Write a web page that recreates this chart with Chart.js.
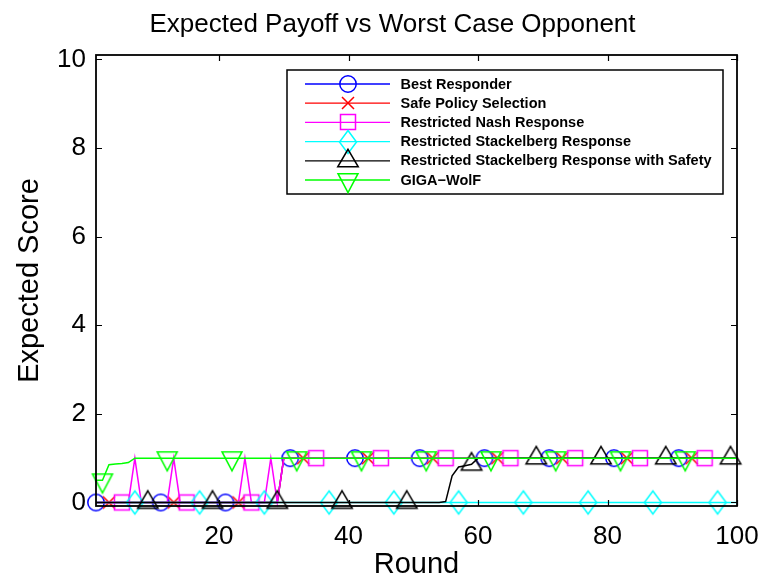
<!DOCTYPE html>
<html>
<head>
<meta charset="utf-8">
<script src="https://cdn.jsdelivr.net/npm/chart.js@4.4.1/dist/chart.umd.min.js"></script>
<style>
  html, body { margin: 0; padding: 0; background: #fff; }
  #c { display: block; }
</style>
</head>
<body>
<canvas id="c" width="765" height="584"></canvas>
<script>
// Round numbers (x axis)
const rounds = [
  1, 2, 3, 4, 5, 6, 7, 8, 9, 10, 11, 12, 13, 14, 15, 16, 17, 18, 19, 20,
  21, 22, 23, 24, 25, 26, 27, 28, 29, 30, 31, 32, 33, 34, 35, 36, 37, 38, 39, 40,
  41, 42, 43, 44, 45, 46, 47, 48, 49, 50, 51, 52, 53, 54, 55, 56, 57, 58, 59, 60,
  61, 62, 63, 64, 65, 66, 67, 68, 69, 70, 71, 72, 73, 74, 75, 76, 77, 78, 79, 80,
  81, 82, 83, 84, 85, 86, 87, 88, 89, 90, 91, 92, 93, 94, 95, 96, 97, 98, 99, 100
];

// Expected payoff per round for each strategy
const bestResponder = [
  0, 0, 0, 0, 0, 0, 0, 0, 0, 0, 0, 0, 0, 0, 0, 0, 0, 0, 0, 0,
  0, 0, 0, 0, 0, 0, 0, 0, 0, 1, 1, 1, 1, 1, 1, 1, 1, 1, 1, 1,
  1, 1, 1, 1, 1, 1, 1, 1, 1, 1, 1, 1, 1, 1, 1, 1, 1, 1, 1, 1,
  1, 1, 1, 1, 1, 1, 1, 1, 1, 1, 1, 1, 1, 1, 1, 1, 1, 1, 1, 1,
  1, 1, 1, 1, 1, 1, 1, 1, 1, 1, 1, 1, 1, 1, 1, 1, 1, 1, 1, 1
];
const safePolicy = [
  0, 0, 0, 0, 0, 0, 0, 0, 0, 0, 0, 0, 0, 0, 0, 0, 0, 0, 0, 0,
  0, 0, 0, 0, 0, 0, 0, 0, 0, 1, 1, 1, 1, 1, 1, 1, 1, 1, 1, 1,
  1, 1, 1, 1, 1, 1, 1, 1, 1, 1, 1, 1, 1, 1, 1, 1, 1, 1, 1, 1,
  1, 1, 1, 1, 1, 1, 1, 1, 1, 1, 1, 1, 1, 1, 1, 1, 1, 1, 1, 1,
  1, 1, 1, 1, 1, 1, 1, 1, 1, 1, 1, 1, 1, 1, 1, 1, 1, 1, 1, 1
];
const nashResponse = [
  0, 0, 0, 0, 0, 0, 1, 0, 0, 0, 0, 0, 1, 0, 0, 0, 0, 0, 0, 0,
  0, 0, 0, 1, 0, 0, 0, 1, 0, 1, 1, 1, 1, 1, 1, 1, 1, 1, 1, 1,
  1, 1, 1, 1, 1, 1, 1, 1, 1, 1, 1, 1, 1, 1, 1, 1, 1, 1, 1, 1,
  1, 1, 1, 1, 1, 1, 1, 1, 1, 1, 1, 1, 1, 1, 1, 1, 1, 1, 1, 1,
  1, 1, 1, 1, 1, 1, 1, 1, 1, 1, 1, 1, 1, 1, 1, 1, 1, 1, 1, 1
];
const stackelberg = [
  0, 0, 0, 0, 0, 0, 0, 0, 0, 0, 0, 0, 0, 0, 0, 0, 0, 0, 0, 0,
  0, 0, 0, 0, 0, 0, 0, 0, 0, 0, 0, 0, 0, 0, 0, 0, 0, 0, 0, 0,
  0, 0, 0, 0, 0, 0, 0, 0, 0, 0, 0, 0, 0, 0, 0, 0, 0, 0, 0, 0,
  0, 0, 0, 0, 0, 0, 0, 0, 0, 0, 0, 0, 0, 0, 0, 0, 0, 0, 0, 0,
  0, 0, 0, 0, 0, 0, 0, 0, 0, 0, 0, 0, 0, 0, 0, 0, 0, 0, 0, 0
];
const stackelbergSafety = [
  0, 0, 0, 0, 0, 0, 0, 0, 0, 0, 0, 0, 0, 0, 0, 0, 0, 0, 0, 0,
  0, 0, 0, 0, 0, 0, 0, 0, 0, 0, 0, 0, 0, 0, 0, 0, 0, 0, 0, 0,
  0, 0, 0, 0, 0, 0, 0, 0, 0, 0, 0, 0, 0, 0, 0.02, 0.6, 0.8, 0.83, 0.86, 1,
  1, 1, 1, 1, 1, 1, 1, 1, 1, 1, 1, 1, 1, 1, 1, 1, 1, 1, 1, 1,
  1, 1, 1, 1, 1, 1, 1, 1, 1, 1, 1, 1, 1, 1, 1, 1, 1, 1, 1, 1
];
const gigaWolf = [
  0.5, 0.5, 0.85, 0.87, 0.88, 0.9, 1, 1, 1, 1, 1, 1, 1, 1, 1, 1, 1, 1, 1, 1,
  1, 1, 1, 1, 1, 1, 1, 1, 1, 1, 1, 1, 1, 1, 1, 1, 1, 1, 1, 1,
  1, 1, 1, 1, 1, 1, 1, 1, 1, 1, 1, 1, 1, 1, 1, 1, 1, 1, 1, 1,
  1, 1, 1, 1, 1, 1, 1, 1, 1, 1, 1, 1, 1, 1, 1, 1, 1, 1, 1, 1,
  1, 1, 1, 1, 1, 1, 1, 1, 1, 1, 1, 1, 1, 1, 1, 1, 1, 1, 1, 1
];

const seriesNames = [
  'Best Responder',
  'Safe Policy Selection',
  'Restricted Nash Response',
  'Restricted Stackelberg Response',
  'Restricted Stackelberg Response with Safety',
  'GIGA\u2212WolF'
];

const xTickValues = [20, 40, 60, 80, 100];
const yTickValues = [0, 2, 4, 6, 8, 10];

const FONT = "'Liberation Sans', Arial, Helvetica, sans-serif";

// Hollow marker glyphs, drawn once into small canvases and used as point styles
function makeMarker(shape, color) {
  const S = 30, m = S / 2;
  const c = document.createElement('canvas');
  c.width = S; c.height = S;
  const g = c.getContext('2d');
  g.strokeStyle = color;
  g.lineWidth = 1.5;
  g.lineJoin = 'miter';
  g.beginPath();
  if (shape === 'circle') {
    g.arc(m, m, 8.2, 0, Math.PI * 2);
  } else if (shape === 'cross') {
    g.moveTo(m - 6, m - 6); g.lineTo(m + 6, m + 6);
    g.moveTo(m + 6, m - 6); g.lineTo(m - 6, m + 6);
  } else if (shape === 'square') {
    g.rect(m - 7.5, m - 7.5, 15, 15);
  } else if (shape === 'diamond') {
    g.moveTo(m, m - 11.5); g.lineTo(m + 8.5, m);
    g.lineTo(m, m + 11.5); g.lineTo(m - 8.5, m); g.closePath();
  } else if (shape === 'triUp') {
    const h = 17.5, w = 20.5;
    g.moveTo(m, m - 2 * h / 3); g.lineTo(m + w / 2, m + h / 3);
    g.lineTo(m - w / 2, m + h / 3); g.closePath();
  } else if (shape === 'triDown') {
    const h = 19, w = 20;
    g.moveTo(m, m + 2 * h / 3); g.lineTo(m + w / 2, m - h / 3);
    g.lineTo(m - w / 2, m - h / 3); g.closePath();
  }
  g.stroke();
  return c;
}

const styles = [
  { data: bestResponder,     color: '#0000ff', shape: 'circle',  first: 1 },
  { data: safePolicy,        color: '#ff0000', shape: 'cross',   first: 3 },
  { data: nashResponse,      color: '#ff00ff', shape: 'square',  first: 5 },
  { data: stackelberg,       color: '#00ffff', shape: 'diamond', first: 7 },
  { data: stackelbergSafety, color: '#000000', shape: 'triUp',   first: 9 },
  { data: gigaWolf,          color: '#00ff00', shape: 'triDown', first: 2 }
];

const datasets = styles.map((s, i) => {
  const img = makeMarker(s.shape, s.color);
  return {
    label: seriesNames[i],
    data: s.data,
    borderColor: s.color,
    backgroundColor: s.color,
    borderWidth: 1.5,
    tension: 0,
    clip: false,
    order: styles.length - i,
    pointStyle: img,
    markerImage: img,
    pointRadius: ctx => ((rounds[ctx.dataIndex] - s.first) % 10 === 0 ? 9 : 0),
    pointHoverRadius: ctx => ((rounds[ctx.dataIndex] - s.first) % 10 === 0 ? 9 : 0)
  };
});

// Boxed axes with inward ticks, plus the boxed legend in the upper right
const framePlugin = {
  id: 'frame',
  afterDatasetsDraw(chart) {
    const { ctx, chartArea: a, scales: { x, y } } = chart;
    ctx.save();
    ctx.strokeStyle = '#000';
    ctx.lineWidth = 1.2;
    ctx.beginPath();
    x.ticks.forEach(t => {
      const px = Math.round(x.getPixelForValue(t.value)) + 0.5;
      ctx.moveTo(px, a.bottom); ctx.lineTo(px, a.bottom - 6);
      ctx.moveTo(px, a.top); ctx.lineTo(px, a.top + 6);
    });
    y.ticks.forEach(t => {
      const py = Math.round(y.getPixelForValue(t.value)) + 0.5;
      ctx.moveTo(a.left, py); ctx.lineTo(a.left + 6, py);
      ctx.moveTo(a.right, py); ctx.lineTo(a.right - 6, py);
    });
    ctx.stroke();
    ctx.lineWidth = 1.8;
    ctx.strokeRect(a.left, a.top, a.right - a.left, a.bottom - a.top);

    // legend
    const lx = a.right - 450, ly = a.top + 15, lw = 436, lh = 124;
    ctx.fillStyle = '#fff';
    ctx.fillRect(lx, ly, lw, lh);
    ctx.lineWidth = 1.5;
    ctx.strokeRect(lx, ly, lw, lh);
    ctx.font = 'bold 14.5px ' + FONT;
    ctx.textBaseline = 'middle';
    ctx.textAlign = 'left';
    chart.data.datasets.forEach((ds, i) => {
      const rowY = ly + 14 + i * 19.2;
      ctx.strokeStyle = ds.borderColor;
      ctx.lineWidth = 1.3;
      ctx.beginPath();
      ctx.moveTo(lx + 18, rowY); ctx.lineTo(lx + 103, rowY);
      ctx.stroke();
      const img = ds.markerImage;
      ctx.drawImage(img, Math.round(lx + 61 - img.width / 2), Math.round(rowY - img.height / 2));
      ctx.fillStyle = '#000';
      ctx.fillText(ds.label, lx + 113.5, rowY + 0.5);
    });
    ctx.restore();
  }
};

new Chart(document.getElementById('c'), {
  type: 'line',
  data: { labels: rounds, datasets },
  plugins: [framePlugin],
  options: {
    responsive: false,
    animation: false,
    events: [],
    layout: { padding: { left: 20, right: 0, top: 0, bottom: 0 } },
    plugins: {
      legend: { display: false },
      tooltip: { enabled: false },
      title: {
        display: true,
        text: 'Expected Payoff vs Worst Case Opponent',
        color: '#000',
        font: { family: FONT, size: 26, weight: 'normal', lineHeight: 1.2 },
        padding: { top: 9, bottom: 14.8 }
      }
    },
    scales: {
      x: {
        type: 'linear',
        min: 1,
        max: 100,
        afterBuildTicks: s => { s.ticks = xTickValues.map(v => ({ value: v })); },
        afterFit: s => { s.height = 78; s.paddingLeft = 0; s.paddingRight = 28; },
        grid: { display: false, drawTicks: false, tickLength: 0 },
        border: { display: false },
        ticks: {
          color: '#000',
          padding: 15,
          maxRotation: 0,
          autoSkip: false,
          font: { family: FONT, size: 26, lineHeight: 1.2 }
        },
        title: {
          display: true,
          text: 'Round',
          color: '#000',
          font: { family: FONT, size: 29, lineHeight: 1 },
          padding: { top: 0, bottom: 5 }
        }
      },
      y: {
        type: 'linear',
        min: -0.08,
        max: 10.1,
        afterBuildTicks: s => { s.ticks = yTickValues.map(v => ({ value: v })); },
        afterFit: s => { s.width = 76; },
        grid: { display: false, drawTicks: false, tickLength: 0 },
        border: { display: false },
        ticks: {
          color: '#000',
          padding: 10,
          autoSkip: false,
          font: { family: FONT, size: 26, lineHeight: 1.2 }
        },
        title: {
          display: true,
          text: 'Expected Score',
          color: '#000',
          font: { family: FONT, size: 29, lineHeight: 0.7 },
          padding: { top: 0, bottom: 0 }
        }
      }
    }
  }
});
</script>
</body>
</html>
